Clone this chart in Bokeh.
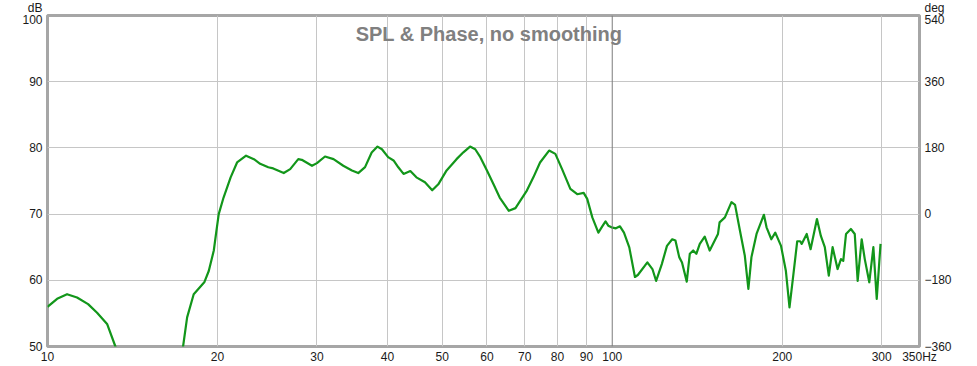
from bokeh.plotting import figure
from bokeh.models import Range1d, LinearAxis, FixedTicker, Label, Span
from bokeh.embed import file_html
from bokeh.resources import INLINE

# ---- data ----
freq = [10.0, 10.4, 10.83, 11.28, 11.8, 12.24, 12.75, 13.19, 14.0, 15.2, 16.5,
        17.38, 17.67, 18.15, 18.95, 19.3, 19.7, 19.9, 20.1, 20.5, 21.1, 21.66,
        22.47, 23.2, 23.8, 24.6, 25.1, 26.2, 26.9, 27.8, 28.2, 29.4, 30.0, 31.0,
        32.1, 33.4, 34.6, 35.5, 36.5, 37.5, 38.4, 39.1, 40.1, 41.0, 41.8, 42.7,
        43.9, 45.0, 46.6, 48.0, 49.2, 50.9, 53.0, 54.5, 56.0, 57.2, 58.4, 60.0,
        61.6, 63.2, 65.6, 67.4, 68.7, 70.6, 72.5, 74.5, 77.3, 79.3, 81.5, 84.3,
        86.7, 89.0, 90.3, 92.2, 94.5, 96.2, 97.3, 98.4, 99.7, 101.5, 103.2, 104.9,
        107.2, 109.7, 111.0, 115.4, 117.8, 119.6, 122.4, 125.0, 127.7, 129.4,
        131.4, 132.9, 135.5, 137.2, 139.1, 140.9, 142.9, 145.8, 148.8, 153.9,
        154.9, 158.3, 162.6, 165.0, 168.1, 171.7, 174.2, 176.4, 180.1, 185.6,
        187.6, 191.3, 194.4, 199.0, 203.0, 206.0, 209.3, 212.6, 215.2, 216.5,
        221.0, 224.5, 230.4, 234.1, 237.9, 241.8, 245.6, 250.6, 254.1, 256.5,
        259.4, 264.6, 268.8, 272.0, 276.5, 280.0, 285.2, 290.0, 294.0, 298.6]
spl = [56.0, 57.2, 57.9, 57.4, 56.4, 55.1, 53.4, 50.0, 45.5, 41.0, 45.0,
       50.0, 54.4, 57.9, 59.7, 61.4, 64.5, 67.3, 70.0, 72.5, 75.55, 77.8,
       78.83, 78.3, 77.6, 77.07, 76.9, 76.2, 76.8, 78.3, 78.2, 77.3, 77.7, 78.7,
       78.3, 77.3, 76.6, 76.2, 77.1, 79.3, 80.2, 79.8, 78.6, 78.1, 77.07, 76.07,
       76.5, 75.55, 74.8, 73.6, 74.5, 76.6, 78.3, 79.33, 80.2, 79.8, 78.6, 76.6,
       74.55, 72.5, 70.5, 70.9, 72.0, 73.55, 75.55, 77.8, 79.6, 79.1, 76.8, 73.8,
       73.0, 73.2, 72.3, 69.5, 67.2, 68.25, 68.9, 68.25, 68.0, 67.85, 68.15, 67.2,
       64.97, 60.5, 60.8, 62.7, 61.7, 59.9, 62.45, 65.2, 66.2, 66.0,
       63.5, 62.7, 59.8, 64.0, 64.5, 64.0, 65.5, 66.6, 64.5, 67.0,
       68.75, 69.5, 71.8, 71.4, 67.75, 63.7, 58.7, 63.5, 67.0, 69.9,
       68.0, 66.2, 67.2, 65.2, 61.4, 55.9, 60.9, 65.9, 65.9, 65.5,
       67.0, 64.7, 69.25, 66.7, 65.0, 60.7, 65.0, 61.7, 63.2, 62.95,
       67.0, 67.75, 67.0, 59.9, 66.2, 63.2, 59.7, 65.0, 57.2, 65.5]

x_ticks = [10, 20, 30, 40, 50, 60, 70, 80, 90, 100, 200, 300, 350]
x_tick_labels = ["10", "20", "30", "40", "50", "60", "70", "80", "90", "100",
                 "200", "300", "350Hz"]
x_grid = [20, 30, 40, 50, 60, 70, 80, 90, 200, 300]
y_ticks = [50, 60, 70, 80, 90, 100]
y_grid = [60, 70, 80, 90]
deg_ticks = [-360, -180, 0, 180, 360, 540]
y_unit = "dB"
deg_unit = "deg"

title_text = "SPL & Phase, no smoothing"
FONT = "Liberation Sans"

p = figure(width=960, height=366, x_axis_type="log",
           x_range=Range1d(10, 350), y_range=Range1d(50, 100),
           output_backend="svg", toolbar_location=None,
           min_border_left=39, min_border_right=49,
           min_border_top=15, min_border_bottom=20,
           styles={"position": "absolute", "top": "0px", "left": "8px"})

p.background_fill_color = "white"
p.border_fill_color = "white"
p.outline_line_color = "#a6a6a6"
p.outline_line_width = 3

p.extra_y_ranges = {"deg": Range1d(-360, 540)}
rax = LinearAxis(y_range_name="deg", ticker=FixedTicker(ticks=deg_ticks))
p.add_layout(rax, "right")

p.xaxis.ticker = FixedTicker(ticks=x_ticks)
p.xaxis.major_label_overrides = {t: l for t, l in zip(x_ticks, x_tick_labels)}
p.yaxis.ticker = FixedTicker(ticks=y_ticks)
p.yaxis.major_label_overrides = {y_ticks[-1]: f"{y_unit}\n{y_ticks[-1]}\n "}
rax.ticker = FixedTicker(ticks=deg_ticks)
rax.major_label_overrides = {deg_ticks[-1]: f"{deg_unit}\n{deg_ticks[-1]}\n "}

for ax in p.axis:
    ax.axis_line_color = None
    ax.major_tick_line_color = None
    ax.minor_tick_line_color = None
    ax.major_tick_out = 0
    ax.major_tick_in = 0
    ax.minor_tick_out = 0
    ax.minor_tick_in = 0
    ax.major_label_text_font = FONT
    ax.major_label_text_font_size = "12px"
    ax.major_label_text_color = "#1a1a1a"
    ax.major_label_text_line_height = 0.9
    ax.major_label_standoff = 5
p.xaxis.major_label_standoff = 3

p.xgrid.ticker = FixedTicker(ticks=x_grid)
p.ygrid.ticker = FixedTicker(ticks=y_grid)
p.grid.grid_line_color = "#c6c6c6"
p.grid.grid_line_width = 1

p.add_layout(Span(location=100, dimension="height", line_color="#7c7c7c",
                  line_width=1))

p.line(freq, spl, line_color="#12961a", line_width=2.2, line_join="round")

p.add_layout(Label(x=60.5, y=97.28, text=title_text, text_align="center",
                   text_baseline="alphabetic", text_font=FONT,
                   text_font_size="20px", text_font_style="bold",
                   text_color="#808080"))

open("out.html", "w").write(file_html(p, INLINE))
